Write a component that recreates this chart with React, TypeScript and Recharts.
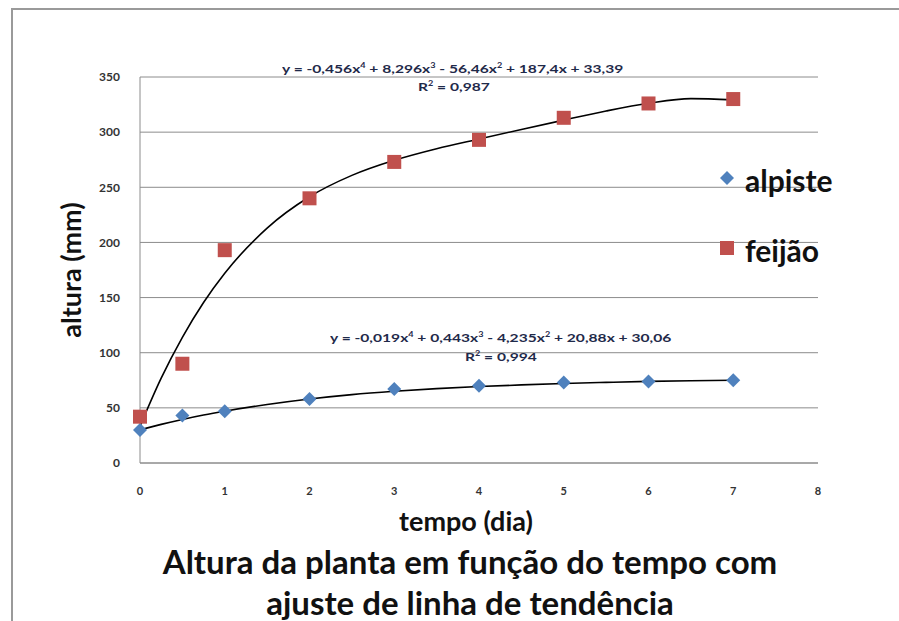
import { ComposedChart, Line, Scatter, XAxis, YAxis, CartesianGrid } from 'recharts';

// measured points
const tempo = [0, 0.5, 1, 2, 3, 4, 5, 6, 7];
const alpiste = [30, 43, 47, 58, 67, 70, 73, 74, 75];
const feijao = [42, 90, 193, 240, 273, 293, 313, 326, 330];

// trend lines
const trendX = [0, 0.25, 0.5, 0.75, 1, 1.5, 2, 2.5, 3, 3.5, 4, 4.5, 5, 5.5, 6, 6.5, 7];
const trendAlpiste = [30, 35, 39.5, 43.5, 47, 53, 58, 62, 65, 67.4, 69.3, 70.8, 72.1, 73.1, 74, 74.6, 75];
const trendFeijao = [33.4, 77, 114, 145.5, 172, 213, 241.4, 260.8, 274.5, 285, 293.8, 302.4, 310.9, 319.2, 326.2, 330.4, 329.3];

const xTicks = [0, 1, 2, 3, 4, 5, 6, 7, 8];
const yTicks = [0, 50, 100, 150, 200, 250, 300, 350];

const alpisteData = tempo.map((x, i) => ({ x, y: alpiste[i] }));
const feijaoData = tempo.map((x, i) => ({ x, y: feijao[i] }));
const alpisteTrend = trendX.map((x, i) => ({ x, y: trendAlpiste[i] }));
const feijaoTrend = trendX.map((x, i) => ({ x, y: trendFeijao[i] }));

const BLUE = '#4F81BD';
const RED = '#C0504D';
const font = 'Lato, "Open Sans", sans-serif';

const Diamond = (props: any) => {
  const { cx, cy } = props;
  const r = 7;
  return <polygon points={`${cx},${cy - r} ${cx + r},${cy} ${cx},${cy + r} ${cx - r},${cy}`} fill={BLUE} />;
};

const Square = (props: any) => {
  const { cx, cy } = props;
  return <rect x={cx - 7} y={cy - 7} width={14} height={14} fill={RED} />;
};

const abs = (left: number, top: number, extra: any = {}) => ({
  position: 'absolute' as const, left, top, fontFamily: font, whiteSpace: 'nowrap' as const, ...extra,
});

const eqStyle = { fontSize: 12, fontWeight: 700, color: '#1f2a4a', transform: 'scaleX(1.3)', transformOrigin: 'left center' };
const sup = { fontSize: 7 };

export default function App() {
  return (
    <div style={{ position: 'absolute', left: 0, top: 0, width: 899, height: 621, background: '#fff', overflow: 'hidden' }}>
      <div style={{ position: 'absolute', left: 11, top: 8, width: 1000, height: 700, borderLeft: '2px solid #9a9a9a', borderTop: '2px solid #9a9a9a' }} />
      <ComposedChart width={899} height={621} margin={{ top: 77, right: 81, bottom: 128, left: 100 }} style={{ position: 'absolute', left: 0, top: 0 }}>
        <CartesianGrid vertical={false} stroke="#8c8c8c" strokeWidth={1} />
        <XAxis
          type="number"
          dataKey="x"
          domain={[0, 8]}
          ticks={xTicks}
          height={30}
          axisLine={{ stroke: '#8c8c8c' }}
          tickLine={false}
          tickMargin={18}
          tick={{ fontSize: 11, fontWeight: 700, fill: '#333', fontFamily: font }}
        />
        <YAxis
          type="number"
          domain={[0, 350]}
          ticks={yTicks}
          width={40}
          axisLine={{ stroke: '#8c8c8c' }}
          tickLine={false}
          tickMargin={14}
          tick={{ fontSize: 12, fontWeight: 700, fill: '#333', fontFamily: font }}
        />
        <Line data={feijaoTrend} dataKey="y" type="monotone" stroke="#000" strokeWidth={1.6} dot={false} isAnimationActive={false} />
        <Line data={alpisteTrend} dataKey="y" type="monotone" stroke="#000" strokeWidth={1.6} dot={false} isAnimationActive={false} />
        <Scatter data={alpisteData} dataKey="y" shape={<Diamond />} isAnimationActive={false} />
        <Scatter data={feijaoData} dataKey="y" shape={<Square />} isAnimationActive={false} />
      </ComposedChart>

      <div style={abs(282, 61, eqStyle)}>
        y = -0,456x<sup style={sup}>4</sup> + 8,296x<sup style={sup}>3</sup> - 56,46x<sup style={sup}>2</sup> + 187,4x + 33,39
      </div>
      <div style={abs(418, 79, eqStyle)}>
        R<sup style={sup}>2</sup> = 0,987
      </div>
      <div style={abs(330, 330, eqStyle)}>
        y = -0,019x<sup style={sup}>4</sup> + 0,443x<sup style={sup}>3</sup> - 4,235x<sup style={sup}>2</sup> + 20,88x + 30,06
      </div>
      <div style={abs(465, 349, eqStyle)}>
        R<sup style={sup}>2</sup> = 0,994
      </div>

      <svg style={{ position: 'absolute', left: 719, top: 170 }} width={16} height={16}>
        <polygon points="8,1 15,8 8,15 1,8" fill={BLUE} />
      </svg>
      <div style={abs(745, 180, { fontSize: 30, fontWeight: 700, color: '#111', transform: 'translateY(-50%)' })}>alpiste</div>
      <svg style={{ position: 'absolute', left: 720, top: 241 }} width={14} height={14}>
        <rect x={0} y={0} width={14} height={14} fill={RED} />
      </svg>
      <div style={abs(745, 250, { fontSize: 30, fontWeight: 700, color: '#111', transform: 'translateY(-50%)' })}>feijão</div>

      <div style={abs(70, 270, { fontSize: 27, fontWeight: 700, color: '#111', transform: 'translate(-50%, -50%) rotate(-90deg)' })}>
        altura (mm)
      </div>
      <div style={abs(466, 520, { fontSize: 27, fontWeight: 700, color: '#111', transform: 'translate(-50%, -50%)' })}>
        tempo (dia)
      </div>
      <div style={abs(470, 561, { fontSize: 33, fontWeight: 700, color: '#111', transform: 'translate(-50%, -50%)' })}>
        Altura da planta em função do tempo com
      </div>
      <div style={abs(470, 602, { fontSize: 33, fontWeight: 700, color: '#111', transform: 'translate(-50%, -50%)' })}>
        ajuste de linha de tendência
      </div>
    </div>
  );
}
